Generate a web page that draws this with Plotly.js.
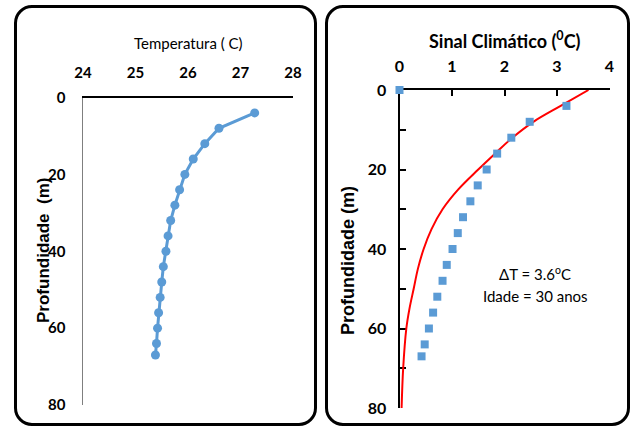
<!DOCTYPE html>
<html>
<head>
<meta charset="utf-8">
<script src="https://cdn.plot.ly/plotly-3.0.1.min.js"></script>
<style>
  html, body { margin:0; padding:0; background:#fff; }
  #wrap { position:relative; width:631px; height:428px; overflow:hidden; }
  .box { position:absolute; border:3px solid #000; border-radius:18px; box-sizing:border-box; }
  #chart { position:absolute; left:0; top:0; width:631px; height:428px; }
</style>
</head>
<body>
<div id="wrap">
  <div class="box" style="left:14px; top:5px; width:303px; height:421px;"></div>
  <div class="box" style="left:325px; top:5px; width:305px; height:421px;"></div>
  <div id="chart"></div>
</div>
<script>
// Left panel: measured temperature profile
const depthTemp = [4, 8, 12, 16, 20, 24, 28, 32, 36, 40, 44, 48, 52, 56, 60, 64, 67];
const temperature = [27.27, 26.59, 26.32, 26.10, 25.94, 25.84, 25.75, 25.67, 25.62, 25.58, 25.53, 25.50, 25.47, 25.44, 25.42, 25.40, 25.38];

// Right panel: climatic signal (observed squares)
const depthSignal = [0, 4, 8, 12, 16, 20, 24, 28, 32, 36, 40, 44, 48, 52, 56, 60, 64, 67];
const signal = [0.0, 3.18, 2.48, 2.13, 1.86, 1.66, 1.49, 1.35, 1.21, 1.11, 1.01, 0.90, 0.82, 0.72, 0.64, 0.56, 0.48, 0.42];

// Right panel: model curve (red)
const depthModel = [0, 4, 8, 12, 16, 20, 25, 30, 35, 40, 45, 50, 55, 60, 70, 80];
const signalModel = [3.6, 3.07, 2.55, 2.15, 1.82, 1.50, 1.12, 0.82, 0.61, 0.46, 0.35, 0.27, 0.19, 0.13, 0.07, 0.04];

const xTicksLeft = [24, 25, 26, 27, 28];
const xTicksRight = [0, 1, 2, 3, 4];
const yTicks = [0, 20, 40, 60, 80];

const blue = '#5b9bd5';
const tickFont = {family: 'Lato, Open Sans, sans-serif', size: 15, color: '#000', weight: 'bold'};
const tickFontR = {family: 'Lato, Open Sans, sans-serif', size: 16, color: '#000', weight: 'bold'};

const W = 631, H = 428;
const px = v => v / W;
const py = v => 1 - v / H;

const traces = [
  {x: temperature, y: depthTemp, xaxis: 'x', yaxis: 'y', type: 'scatter', mode: 'lines+markers',
   line: {color: blue, width: 3}, marker: {color: blue, size: 9, symbol: 'circle'}},
  {x: signalModel, y: depthModel, xaxis: 'x2', yaxis: 'y2', type: 'scatter', mode: 'lines',
   line: {color: '#ff0000', width: 2, shape: 'spline', smoothing: 1}},
  {x: signal, y: depthSignal, xaxis: 'x2', yaxis: 'y2', type: 'scatter', mode: 'markers', cliponaxis: false,
   marker: {color: blue, size: 8, symbol: 'square'}}
];

function ann(text, x, y, font, extra) {
  return Object.assign({text: text, xref: 'paper', yref: 'paper', x: px(x), y: py(y),
    xanchor: 'center', yanchor: 'middle', showarrow: false, font: font}, extra || {});
}

const layout = {
  width: W, height: H,
  margin: {l: 0, r: 0, t: 0, b: 0},
  paper_bgcolor: 'rgba(0,0,0,0)', plot_bgcolor: 'rgba(0,0,0,0)',
  showlegend: false,
  xaxis: {domain: [px(83), px(293)], range: [24, 28], side: 'top', anchor: 'y',
    tickvals: xTicksLeft, ticktext: xTicksLeft.map(String), showgrid: false, zeroline: false,
    showline: true, linecolor: '#000', linewidth: 1.5, ticks: '', tickfont: tickFont, ticklabelstandoff: 12},
  yaxis: {domain: [py(405), py(97.5)], range: [80, 0], anchor: 'x',
    tickvals: yTicks, ticktext: yTicks.map(String), showgrid: false, zeroline: false,
    showline: true, linecolor: '#7f7f7f', linewidth: 1.5, ticks: '', tickfont: tickFont, ticklabelstandoff: 13},
  xaxis2: {domain: [px(399.5), px(609.5)], range: [0, 4], side: 'top', anchor: 'y2', layer: 'below traces',
    tickvals: xTicksRight, ticktext: xTicksRight.map(String), showgrid: false, zeroline: false,
    showline: true, linecolor: '#000', linewidth: 2, ticks: 'inside', ticklen: 6, tickwidth: 2, tickcolor: '#000',
    tickfont: tickFontR, ticklabelstandoff: 10},
  yaxis2: {domain: [py(408), py(90)], range: [80, 0], anchor: 'x2', layer: 'below traces',
    tickvals: yTicks, ticktext: yTicks.map(String), showgrid: false, zeroline: false,
    showline: true, linecolor: '#000', linewidth: 2, ticks: 'inside', ticklen: 6, tickwidth: 2, tickcolor: '#000',
    minor: {dtick: 10, tick0: 0, ticks: 'inside', ticklen: 6, tickwidth: 2, tickcolor: '#000'},
    tickfont: tickFontR, ticklabelstandoff: 8},
  annotations: [
    ann('Temperatura ( C)', 188, 43, {family: 'Lato, Open Sans, sans-serif', size: 15, color: '#000'}),
    ann('<b>Sinal Climático (<sup>0</sup>C)</b>', 505, 40, {family: 'Lato, Open Sans, sans-serif', size: 18, color: '#000'}),
    ann('<b>Profundidade  (m)</b>', 43, 251, {family: 'Liberation Sans, Arial, sans-serif', size: 17, color: '#000'}, {textangle: -90}),
    ann('<b>Profundidade (m)</b>', 348, 261, {family: 'Liberation Sans, Arial, sans-serif', size: 18, color: '#000'}, {textangle: -90}),
    ann('ΔT = 3.6<sup>o</sup>C', 535, 273, {family: 'Lato, Open Sans, sans-serif', size: 15, color: '#000'}),
    ann('Idade = 30 anos', 535, 296, {family: 'Lato, Open Sans, sans-serif', size: 15, color: '#000'})
  ]
};

Plotly.newPlot('chart', traces, layout, {displayModeBar: false, staticPlot: true});
</script>
</body>
</html>
